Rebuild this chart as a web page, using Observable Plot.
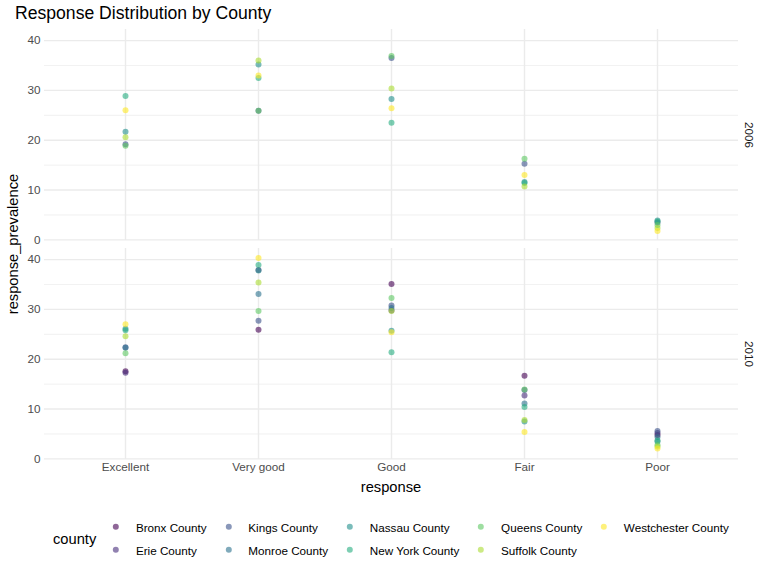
<!DOCTYPE html>
<html>
<head>
<meta charset="utf-8">
<script src="https://cdn.jsdelivr.net/npm/d3@7"></script>
<script src="https://cdn.jsdelivr.net/npm/@observablehq/plot@0.6"></script>
<style>
  body { margin: 0; background: #fff; font-family: "Liberation Sans", Arial, Helvetica, sans-serif; }
  #wrap { position: relative; width: 768px; height: 576px; overflow: hidden; background: #fff; }
  #title { position: absolute; left: 15px; top: 3px; font-size: 17.6px; line-height: 20px; color: #000; white-space: nowrap; }
  #chart { position: absolute; left: 0; top: 24px; }
  #legend { position: absolute; left: 53px; top: 515.5px; display: flex; align-items: center; }
  #legend .ttl { font-size: 14.7px; color: #000; margin-right: 11px; }
  #legend .grid { display: grid; grid-auto-flow: column; grid-template-rows: 23px 23px; column-gap: 13px; }
  #legend .item { display: flex; align-items: center; height: 23px; }
  #legend .key { width: 17.6px; height: 17.6px; margin-right: 11px; }
  #legend .lab { font-size: 11.7px; color: #000; white-space: nowrap; }
</style>
</head>
<body>
<div id="wrap">
  <div id="title">Response Distribution by County</div>
  <div id="chart"></div>
  <div id="legend"></div>
</div>
<script>
// ---- data ----
const counties = ["Bronx County", "Erie County", "Kings County", "Monroe County", "Nassau County",
                  "New York County", "Queens County", "Suffolk County", "Westchester County"];
const responses = ["Excellent", "Very good", "Good", "Fair", "Poor"];
const years = [2006, 2010];
const yTicks = [0, 10, 20, 30, 40];
const yMinorTicks = [5, 15, 25, 35];
const viridis9 = ["#440154", "#472D7B", "#3B528B", "#2C728E", "#21908C", "#27AD81", "#5DC863", "#AADC32", "#FDE725"];

// values per county in order: Excellent, Very good, Good, Fair, Poor
const prev2006 = {
  "Kings County":       [19.2, 25.9, 36.5, 15.3, 3.5],
  "Nassau County":      [21.7, 35.2, 28.3, 11.6, 3.9],
  "New York County":    [28.9, 32.5, 23.5, 11.4, 3.7],
  "Queens County":      [18.9, 25.9, 36.9, 16.3, 3.0],
  "Suffolk County":     [20.6, 36.0, 30.4, 10.7, 2.4],
  "Westchester County": [26.0, 33.0, 26.4, 13.0, 1.8]
};
const prev2010 = {
  "Bronx County":       [17.6, 25.9, 35.1, 16.7, 4.8],
  "Erie County":        [17.3, 37.9, 29.8, 12.7, 5.2],
  "Kings County":       [22.4, 27.7, 30.8, 13.8, 5.6],
  "Monroe County":      [22.3, 33.1, 30.3, 11.1, 4.4],
  "Nassau County":      [26.1, 37.8, 25.7, 7.5, 3.5],
  "New York County":    [25.8, 38.9, 21.4, 10.4, 3.7],
  "Queens County":      [21.2, 29.7, 32.3, 13.9, 2.8],
  "Suffolk County":     [24.6, 35.4, 29.7, 7.8, 2.5],
  "Westchester County": [27.0, 40.3, 25.4, 5.4, 2.1]
};

// ---- table ----
const rows = [];
for (const [year, table] of [[2006, prev2006], [2010, prev2010]]) {
  for (const county of counties) {
    if (!table[county]) continue;
    table[county].forEach((v, i) => rows.push({year, county, response: responses[i], value: v}));
  }
}
const ext = d3.extent(rows, d => d.value);
const pad = (ext[1] - ext[0]) * 0.05;
const yDomain = [ext[0] - pad, ext[1] + pad];

const FONT = '"Liberation Sans", Arial, Helvetica, sans-serif';

const plot = Plot.plot({
  width: 768,
  height: 476,
  marginTop: 5,
  marginBottom: 40.5,
  marginLeft: 44,
  marginRight: 30,
  style: {fontFamily: FONT, background: "transparent"},
  x: {type: "point", domain: responses, padding: 0.6},
  y: {domain: yDomain},
  fy: {domain: years, paddingInner: 0.03425, paddingOuter: 0, axis: null},
  color: {domain: counties, range: viridis9},
  marks: [
    Plot.ruleY(yMinorTicks, {stroke: "#EBEBEB", strokeWidth: 0.7}),
    Plot.ruleY(yTicks, {stroke: "#EBEBEB", strokeWidth: 1.4}),
    Plot.ruleX(responses, {stroke: "#EBEBEB", strokeWidth: 1.4}),
    Plot.axisY({ticks: yTicks, tickSize: 0, tickPadding: 4, label: null, fill: "#4D4D4D", fontSize: 11.7}),
    Plot.axisX({tickSize: 0, tickPadding: 3, label: null, fill: "#4D4D4D", fontSize: 11.7}),
    Plot.dot(rows, {x: "response", y: "value", fy: "year", fill: "county", r: 3, fillOpacity: 0.6}),
    Plot.text(years, {fy: d => d, text: d => String(d), frameAnchor: "right", dx: 10, rotate: 90,
                      fill: "#1A1A1A", fontSize: 11.7, textAnchor: "middle", lineAnchor: "middle"})
  ]
});
document.getElementById("chart").appendChild(plot);

// axis titles
const svg = d3.select(plot);
svg.append("text")
  .attr("transform", "translate(13,220) rotate(-90)")
  .attr("text-anchor", "middle").attr("dominant-baseline", "central")
  .attr("font-size", 14.7).attr("fill", "#000").attr("font-family", FONT)
  .text("response_prevalence");
svg.append("text")
  .attr("x", 391).attr("y", 463)
  .attr("text-anchor", "middle").attr("dominant-baseline", "central")
  .attr("font-size", 14.7).attr("fill", "#000").attr("font-family", FONT)
  .text("response");

// legend
const color = plot.scale("color");
const leg = d3.select("#legend");
leg.append("div").attr("class", "ttl").text("county");
const grid = leg.append("div").attr("class", "grid");
for (const c of counties) {
  const it = grid.append("div").attr("class", "item");
  const k = it.append("svg").attr("class", "key").attr("width", 17.6).attr("height", 17.6);
  k.append("circle").attr("cx", 8.8).attr("cy", 8.8).attr("r", 3)
    .attr("fill", color.apply(c)).attr("fill-opacity", 0.6);
  it.append("span").attr("class", "lab").text(c);
}
</script>
</body>
</html>
